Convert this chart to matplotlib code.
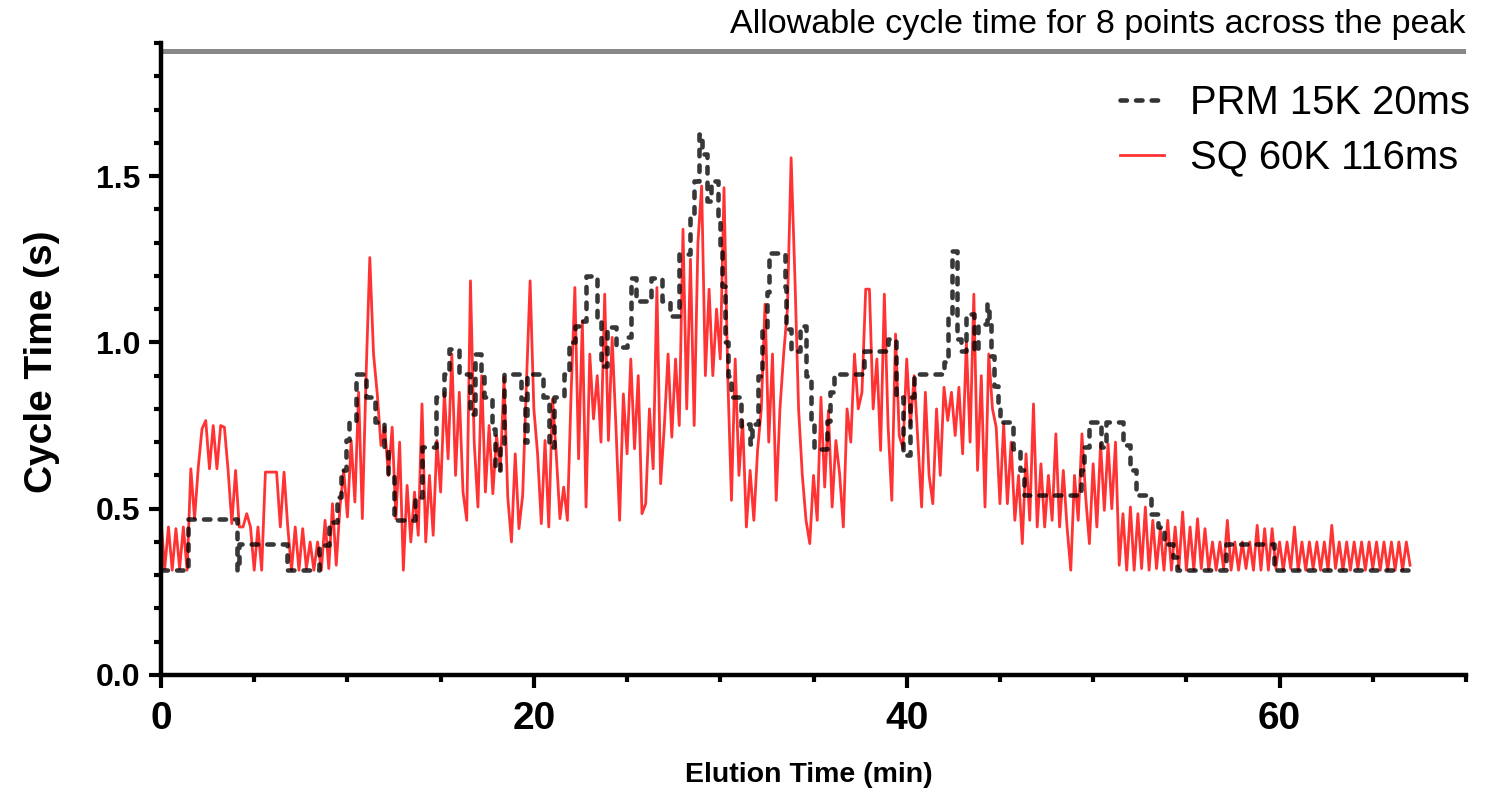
import numpy as np
import matplotlib
matplotlib.use("Agg")
import matplotlib.pyplot as plt
from matplotlib.ticker import MultipleLocator

plt.rcParams['font.family'] = ['Liberation Sans', 'DejaVu Sans']

# ---------------- data ----------------
# PRM 15K 20ms: step levels (start time in min, cycle time in s)
prm_time = [0.0, 1.45, 4.05, 4.2, 6.75, 8.45, 9.0, 9.45, 9.65, 9.9,
            10.1, 10.45, 11.0, 11.5, 11.95, 12.15, 12.5, 13.6, 14.0, 14.75,
            15.2, 15.45, 16.0, 16.55, 16.85, 17.15, 17.3, 17.75, 17.9, 18.2,
            18.4, 19.3, 19.5, 19.65, 20.5, 20.8, 21.1, 21.6, 21.9, 22.2,
            22.5, 22.8, 23.4, 23.6, 23.9, 24.4, 25.0, 25.2, 25.5, 26.3,
            26.9, 27.3, 27.8, 28.4, 28.6, 28.85, 29.0, 29.3, 29.5, 29.9,
            30.0, 30.1, 30.25, 30.4, 30.6, 31.1, 31.4, 31.6, 31.7, 32.0,
            32.25, 32.5, 32.6, 33.45, 33.55, 33.8, 34.3, 34.6, 34.85, 35.0,
            35.7, 35.9, 36.1, 37.7, 39.0, 39.4, 39.8, 40.2, 40.4, 42.0,
            42.2, 42.45, 42.7, 42.9, 43.2, 43.6, 43.8, 44.3, 44.4, 44.5,
            44.7, 44.9, 45.0, 45.7, 46.1, 46.3, 49.35, 49.5, 49.8, 50.4,
            50.7, 51.6, 52.0, 52.3, 53.1, 53.5, 53.8, 54.3, 54.5, 57.1,
            59.7, 67.0]
prm_cycle = [0.315, 0.47, 0.315, 0.395, 0.315, 0.39, 0.46, 0.535, 0.615, 0.705,
             0.76, 0.905, 0.835, 0.76, 0.685, 0.605, 0.465, 0.535, 0.685, 0.835,
             0.905, 0.98, 0.905, 0.785, 0.965, 0.905, 0.835, 0.74, 0.615, 0.685,
             0.905, 0.83, 0.70, 0.905, 0.835, 0.685, 0.835, 0.905, 1.0, 1.05,
             1.065, 1.2, 1.065, 0.93, 1.045, 0.985, 1.015, 1.195, 1.125, 1.195,
             1.125, 1.08, 1.265, 1.385, 1.485, 1.625, 1.565, 1.425, 1.485, 1.365,
             1.285, 1.17, 1.0, 0.9, 0.835, 0.75, 0.755, 0.695, 0.755, 0.9,
             1.04, 1.15, 1.27, 1.165, 1.04, 0.975, 1.05, 0.9, 0.77, 0.68,
             0.765, 0.85, 0.905, 0.975, 1.01, 0.835, 0.66, 0.835, 0.905, 0.94,
             1.085, 1.275, 1.01, 0.975, 1.085, 0.975, 1.055, 1.115, 1.055, 0.96,
             0.87, 0.8, 0.76, 0.68, 0.615, 0.54, 0.615, 0.685, 0.76, 0.685,
             0.76, 0.69, 0.615, 0.54, 0.485, 0.445, 0.395, 0.355, 0.315, 0.395,
             0.315, 0.335]

# SQ 60K 116ms: cycle time sampled every 0.2 min from 0 to 67 min
sq_step_min = 0.2
sq_cycle = [
    0.465, 0.32, 0.445, 0.315, 0.44, 0.32, 0.445, 0.315, 0.62, 0.47,
    0.625, 0.74, 0.765, 0.62, 0.75, 0.62, 0.75, 0.745, 0.615, 0.455,
    0.615, 0.445, 0.445, 0.485, 0.445, 0.315, 0.445, 0.315, 0.61, 0.61,
    0.61, 0.61, 0.445, 0.61, 0.445, 0.315, 0.445, 0.315, 0.44, 0.32,
    0.40, 0.315, 0.40, 0.315, 0.465, 0.32, 0.515, 0.33, 0.505, 0.615,
    0.475, 0.705, 0.52, 0.85, 0.47, 0.9, 1.255, 0.965, 0.845, 0.69,
    0.745, 0.6, 0.745, 0.47, 0.7, 0.315, 0.57, 0.40, 0.55, 0.42,
    0.815, 0.40, 0.6, 0.42, 0.705, 0.55, 0.85, 0.65, 0.965, 0.6,
    0.85, 0.55, 0.465, 1.185, 0.7, 0.505, 0.9, 0.55, 0.75, 0.545,
    0.72, 0.615, 0.895, 0.535, 0.40, 0.665, 0.44, 0.54, 0.875, 1.185,
    0.8, 0.665, 0.455, 0.705, 0.445, 0.83, 0.665, 0.47, 0.565, 0.465,
    0.85, 1.165, 0.65, 1.065, 0.505, 0.965, 0.77, 0.9, 0.7, 1.145,
    0.705, 1.015, 0.75, 0.465, 0.845, 0.665, 0.95, 0.68, 0.9, 0.485,
    0.515, 0.8, 0.62, 1.165, 0.575, 0.75, 0.965, 0.715, 0.95, 0.75,
    1.34, 0.8, 1.25, 0.75, 1.3, 1.47, 0.9, 1.16, 0.9, 1.1,
    0.95, 1.465, 0.9, 0.525, 0.95, 0.6, 0.765, 0.445, 0.615, 0.465,
    0.675, 0.8, 1.115, 0.7, 0.965, 0.525, 0.8, 0.965, 1.1, 1.555,
    1.2, 0.8, 0.6, 0.465, 0.395, 0.6, 0.465, 0.835, 0.565, 0.795,
    0.505, 0.705, 0.605, 0.445, 0.8, 0.7, 0.965, 0.8, 0.85, 1.16,
    1.16, 0.8, 0.95, 0.675, 1.145, 0.75, 0.525, 1.025, 0.72, 0.68,
    0.95, 0.75, 0.9, 0.7, 0.505, 0.85, 0.6, 0.515, 0.8, 0.6,
    0.865, 0.765, 0.85, 0.72, 0.865, 0.665, 1.0, 0.7, 1.145, 0.615,
    0.9, 0.505, 0.965, 0.8, 0.745, 0.515, 0.755, 0.515, 0.7, 0.465,
    0.6, 0.395, 0.665, 0.465, 0.815, 0.445, 0.635, 0.445, 0.6, 0.465,
    0.725, 0.445, 0.615, 0.445, 0.315, 0.6, 0.465, 0.725, 0.535, 0.395,
    0.635, 0.445, 0.695, 0.495, 0.695, 0.5, 0.7, 0.33, 0.485, 0.315,
    0.505, 0.315, 0.485, 0.32, 0.505, 0.315, 0.465, 0.32, 0.44, 0.315,
    0.465, 0.315, 0.445, 0.32, 0.49, 0.315, 0.445, 0.315, 0.47, 0.32,
    0.44, 0.315, 0.40, 0.315, 0.40, 0.32, 0.465, 0.315, 0.40, 0.315,
    0.40, 0.32, 0.40, 0.315, 0.45, 0.315, 0.44, 0.315, 0.44, 0.32,
    0.40, 0.315, 0.40, 0.32, 0.445, 0.315, 0.40, 0.315, 0.40, 0.32,
    0.40, 0.315, 0.40, 0.315, 0.45, 0.32, 0.40, 0.315, 0.40, 0.315,
    0.40, 0.32, 0.40, 0.315, 0.40, 0.32, 0.40, 0.315, 0.40, 0.315,
    0.40, 0.315, 0.40, 0.315, 0.40, 0.33,
]
sq_time = np.round(np.arange(len(sq_cycle)) * sq_step_min, 2)

allowable_cycle = 1.875   # s, 8 points across a 15 s peak
allowable_label = "Allowable cycle time for 8 points across the peak"
x_label = "Elution Time (min)"
y_label = "Cycle Time (s)"
prm_label = "PRM 15K 20ms"
sq_label = "SQ 60K 116ms"

# ---------------- figure ----------------
W, H = 1496, 795
fig = plt.figure(figsize=(W / 100, H / 100), dpi=100)
ax = fig.add_axes([161 / W, 1 - 675 / H, (1466 - 161) / W, (675 - 43) / H])

sq_line, = ax.plot(sq_time, sq_cycle, color='#ff0000',
                   alpha=0.8, lw=2.0, zorder=2, label=sq_label)
prm_line, = ax.plot(prm_time, prm_cycle, drawstyle='steps-post', color='black',
                    alpha=0.78, lw=3.3, dashes=(1.4, 2.0), dash_capstyle='round',
                    zorder=3, label=prm_label)

ax.axhline(allowable_cycle, color='#888888', lw=3.6, zorder=1)

ax.set_xlim(0, 70)
ax.set_ylim(0, 1.9)

for s in ['top', 'right']:
    ax.spines[s].set_visible(False)
for s in ['left', 'bottom']:
    ax.spines[s].set_linewidth(3.2)

ax.xaxis.set_major_locator(MultipleLocator(20))
ax.xaxis.set_minor_locator(MultipleLocator(5))
ax.yaxis.set_major_locator(MultipleLocator(0.5))
ax.yaxis.set_minor_locator(MultipleLocator(0.1))
ax.tick_params(axis='both', which='major', length=9, width=3.0, direction='out')
ax.tick_params(axis='both', which='minor', length=5, width=3.0, direction='out')
ax.tick_params(axis='x', which='major', labelsize=28, pad=10)
ax.tick_params(axis='y', which='major', labelsize=23, pad=6)
ax.set_yticks([0, 0.5, 1.0, 1.5])
ax.set_yticklabels(['0.0', '0.5', '1.0', '1.5'])
for lab in ax.get_xticklabels() + ax.get_yticklabels():
    lab.set_fontweight('bold')

fig.text(809 / W, 1 - 775 / H, x_label, ha='center', va='center',
         fontsize=20.5, fontweight='bold')
fig.text(42 / W, 1 - 362 / H, y_label, ha='center', va='center',
         rotation=90, fontsize=28, fontweight='bold')
fig.text(1465 / W, 1 - 24 / H, allowable_label, ha='right', va='center',
         fontsize=24.6)

leg = ax.legend(handles=[prm_line, sq_line], loc='upper left',
                bbox_to_anchor=(1120 / W, 1 - 84 / H), bbox_transform=fig.transFigure,
                frameon=False, fontsize=28.8, handlelength=1.1, handletextpad=0.65,
                labelspacing=0.42, borderpad=0, borderaxespad=0)
for h in leg.legend_handles:
    h.set_alpha(0.8)

fig.savefig('out.png', dpi=100)
